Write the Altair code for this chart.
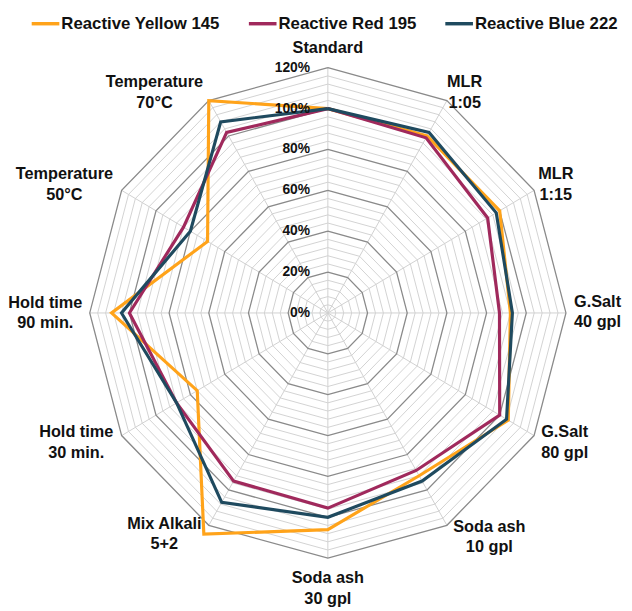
import math
import altair as alt
import pandas as pd

# ---- data -------------------------------------------------------------
categories = ["Standard", "MLR\n1:05", "MLR\n1:15", "G.Salt\n40 gpl", "G.Salt\n80 gpl",
              "Soda ash\n10 gpl", "Soda ash\n30 gpl", "Mix Alkali\n5+2",
              "Hold time\n30 min.", "Hold time\n90 min.", "Temperature\n50°C",
              "Temperature\n70°C"]
series_names = ["Reactive Yellow 145", "Reactive Red 195", "Reactive Blue 222"]
yellow_145 = [100, 100, 100, 92, 105, 92, 106, 125, 76, 109, 70, 120]
red_195 = [100, 99, 93, 86.5, 100, 89, 95.5, 95, 88, 100, 84, 102]
blue_222 = [100, 102, 98, 93, 104, 95, 100, 107, 88, 104, 80, 108]
series_colors = ["#FFA31A", "#A0295C", "#1F4A5F"]
tick_levels = [0, 20, 40, 60, 80, 100, 120]
tick_labels = ["0%", "20%", "40%", "60%", "80%", "100%", "120%"]

# ---- layout -----------------------------------------------------------
W, H = 624, 603
CX, CY = 324, 305          # centre in chart pixels
PX_X, PX_Y = 2.01, 2.07    # pixels per percent
RMAX = 120
LINE_H = 21
# label block-centre offsets from the 120% vertex (pixels)
label_off = [(0, -20), (18, -8), (22, -6), (32, -1), (31, 7), (43, 12),
             (0, 31), (-45, 9), (-46, 7), (-45, 0), (-58, -6), (-55, -8)]

n = len(categories)
ang = [2 * math.pi * i / n for i in range(n)]

def pt(r, i):
    return r * math.sin(ang[i % n]), r * math.cos(ang[i % n])

# series
rows = []
for name, vals in zip(series_names, [yellow_145, red_195, blue_222]):
    for k in range(n + 1):
        x, y = pt(vals[k % n], k)
        rows.append({"series": name, "k": k, "x": x, "y": y})
sdf = pd.DataFrame(rows)

# grid polygons
grows = []
for lev in range(4, RMAX + 1, 4):
    for k in range(n + 1):
        x, y = pt(lev, k)
        grows.append({"lev": lev, "k": k, "x": x, "y": y,
                      "major": lev % 20 == 0})
gdf = pd.DataFrame(grows)

# spokes
spk = []
for i in range(n):
    x, y = pt(RMAX, i)
    spk.append({"x": 0.0, "y": 0.0, "x2": x, "y2": y})
spdf = pd.DataFrame(spk)

# tick labels
tdf = pd.DataFrame({"x": [0.0] * len(tick_levels), "y": tick_levels, "t": tick_labels})

# category labels (first-line position: block centre minus half a line if two lines)
lrows = []
for i, c in enumerate(categories):
    x, y = pt(RMAX, i)
    nl = c.count("\n")
    oy = label_off[i][1] - nl * LINE_H / 2
    lrows.append({"x": x + label_off[i][0] / PX_X, "y": y - oy / PX_Y, "t": c})
ldf = pd.DataFrame(lrows)

xs = alt.Scale(domain=[-CX / PX_X, (W - CX) / PX_X], nice=False, zero=False)
ys = alt.Scale(domain=[-(H - CY) / PX_Y, CY / PX_Y], nice=False, zero=False)
X = lambda f="x": alt.X(f"{f}:Q", scale=xs, axis=None)
Y = lambda f="y": alt.Y(f"{f}:Q", scale=ys, axis=None)

minor = alt.Chart(gdf).transform_filter("!datum.major").mark_line(
    stroke="#D2D2D2", strokeWidth=1).encode(x=X(), y=Y(), detail="lev:N", order="k:Q")
spokes = alt.Chart(spdf).mark_rule(stroke="#D0D0D0", strokeWidth=1).encode(
    x=X(), y=Y(), x2="x2:Q", y2="y2:Q")
major = alt.Chart(gdf).transform_filter("datum.major").mark_line(
    stroke="#8A8A8A", strokeWidth=1.3).encode(x=X(), y=Y(), detail="lev:N", order="k:Q")

lines = alt.Chart(sdf).mark_line(strokeWidth=3.2, strokeJoin="miter").encode(
    x=X(), y=Y(), order="k:Q",
    color=alt.Color("series:N", sort=series_names,
                    scale=alt.Scale(domain=series_names, range=series_colors),
                    legend=alt.Legend(title=None, orient="none", direction="horizontal",
                                      legendX=22, legendY=-4, symbolType="stroke",
                                      symbolSize=784, symbolStrokeWidth=3.5,
                                      labelFont="Liberation Sans", labelFontSize=17,
                                      labelFontWeight="bold", labelColor="#111111",
                                      labelOffset=0, columnPadding=22, padding=0,
                                      labelLimit=300)))

ticks = alt.Chart(tdf).mark_text(align="right", baseline="middle", dx=-18,
                                 font="Liberation Sans", fontSize=14, fontWeight="bold",
                                 color="#111111").encode(x=X(), y=Y(), text="t:N")
labels = alt.Chart(ldf).mark_text(align="center", baseline="middle", lineBreak="\n",
                                  font="Liberation Sans", fontSize=16.5, fontWeight="bold",
                                  lineHeight=LINE_H, color="#111111").encode(
    x=X(), y=Y(), text="t:N")

chart = alt.layer(minor, spokes, major, lines, ticks, labels).properties(
    width=W, height=H, autosize=alt.AutoSizeParams(type="none"), padding=0
).configure_view(stroke=None)

chart.save("out.html", embed_options={"renderer": "svg", "actions": False})
